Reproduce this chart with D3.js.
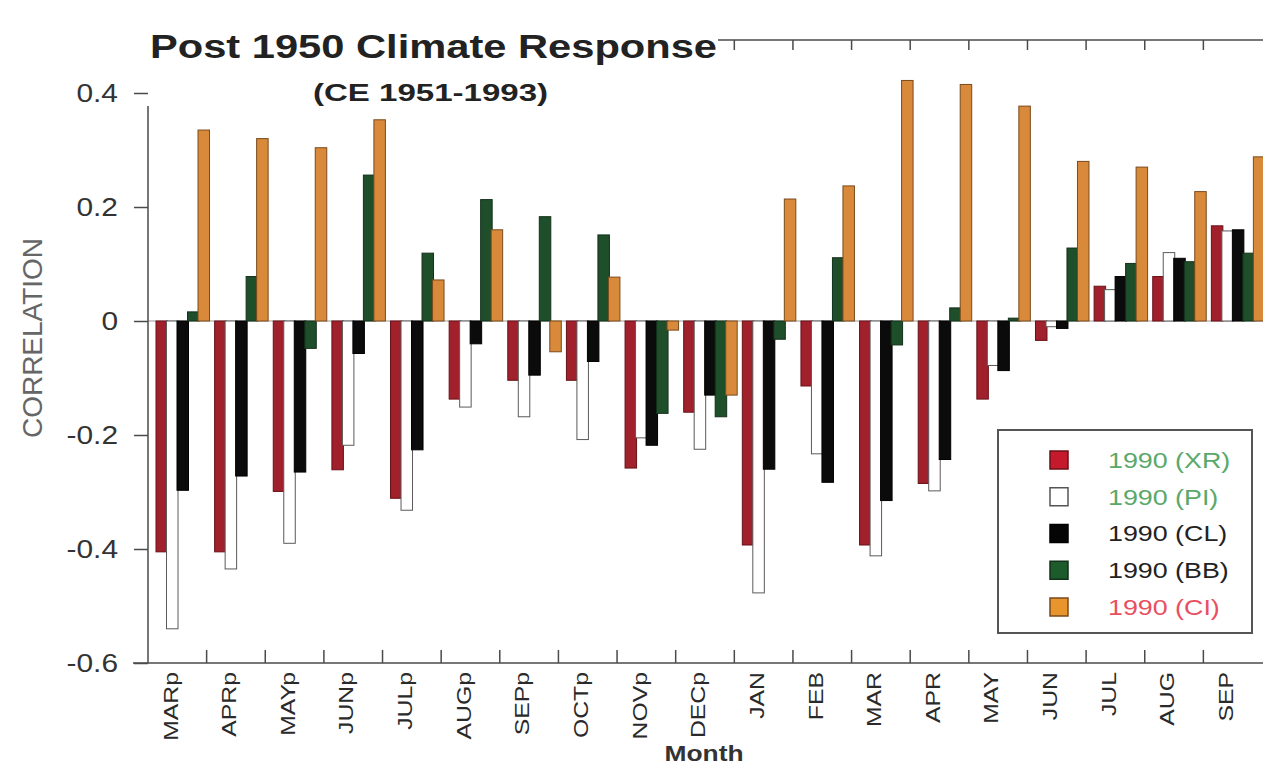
<!DOCTYPE html>
<html>
<head>
<meta charset="utf-8">
<script src="https://cdn.jsdelivr.net/npm/d3@7"></script>
<style>
  html, body { margin: 0; padding: 0; background: #fff; }
  svg { display: block; font-family: "Liberation Sans", Arial, Helvetica, sans-serif; }
</style>
</head>
<body>
<svg id="chart" width="1263" height="765"></svg>
<script>
// Month categories (p = previous year)
const months = ["MARp","APRp","MAYp","JUNp","JULp","AUGp","SEPp","OCTp","NOVp","DECp",
                "JAN","FEB","MAR","APR","MAY","JUN","JUL","AUG","SEP"];

// Correlation of each chronology with climate, CE 1951-1993
const xr = [-0.405,-0.405,-0.299,-0.261,-0.311,-0.137,-0.104,-0.104,-0.258,-0.160,
            -0.393,-0.114,-0.393,-0.285,-0.137,-0.034, 0.061, 0.078, 0.167];
const pi = [-0.540,-0.435,-0.390,-0.218,-0.332,-0.151,-0.168,-0.208,-0.205,-0.225,
            -0.477,-0.233,-0.412,-0.298,-0.078,-0.010, 0.055, 0.120, 0.158];
const cl = [-0.297,-0.272,-0.265,-0.057,-0.226,-0.040,-0.095,-0.071,-0.218,-0.130,
            -0.260,-0.283,-0.315,-0.243,-0.087,-0.013, 0.078, 0.110, 0.160];
const bb = [ 0.016, 0.078,-0.048, 0.256, 0.119, 0.213, 0.183, 0.151,-0.162,-0.168,
            -0.032, 0.111,-0.042, 0.023, 0.005, 0.128, 0.101, 0.104, 0.119];
const ci = [ 0.335, 0.320, 0.304, 0.353, 0.072, 0.160,-0.054, 0.077,-0.016,-0.130,
             0.214, 0.237, 0.422, 0.415, 0.377, 0.280, 0.270, 0.227, 0.288];

const seriesNames = ["1990 (XR)","1990 (PI)","1990 (CL)","1990 (BB)","1990 (CI)"];
const yTicks = [0.4, 0.2, 0, -0.2, -0.4, -0.6];
const yTickLabels = ["0.4","0.2","0","-0.2","-0.4","-0.6"];

const seriesValues = [xr, pi, cl, bb, ci];
const fills   = ["#a0202b", "#ffffff", "#0b0b0b", "#1f4e2a", "#d8893a"];
const strokes = ["#6a1018", "#5a5a5a", "#000000", "#12301a", "#7a4a1c"];
const swatchFills = ["#c41a2c", "#ffffff", "#050505", "#1d5a2c", "#e8952e"];
const legendText = ["#5aa86a", "#5aa86a", "#222222", "#222222", "#e8505f"];

const svg = d3.select("#chart");

const x = d3.scaleBand().domain(months).range([148, 1262]).paddingInner(0).paddingOuter(0);
const y = d3.scaleLinear().domain([-0.6, 0.4]).range([663, 93]);
const sub = d3.scaleBand().domain(seriesNames).range([8, 8 + 5 * 10.5]);
const barW = 11.5;

const axisColor = "#4a4a4a";

// top frame line with inward ticks at band edges
svg.append("line").attr("x1", 148).attr("x2", 1263).attr("y1", 40).attr("y2", 40)
  .attr("stroke", axisColor).attr("stroke-width", 1.5);
svg.append("g").selectAll("line").data(months.slice(1)).join("line")
  .attr("x1", d => x(d)).attr("x2", d => x(d))
  .attr("y1", 40).attr("y2", 50)
  .attr("stroke", axisColor).attr("stroke-width", 1.5);

// zero line
svg.append("line").attr("x1", 148).attr("x2", 1263).attr("y1", y(0)).attr("y2", y(0))
  .attr("stroke", "#9a9a9a").attr("stroke-width", 1);

// bars
seriesNames.forEach((name, si) => {
  svg.append("g").selectAll("rect").data(months).join("rect")
    .attr("x", (m) => x(m) + sub(name))
    .attr("width", barW)
    .attr("y", (m, i) => y(Math.max(0, seriesValues[si][i])))
    .attr("height", (m, i) => Math.abs(y(seriesValues[si][i]) - y(0)))
    .attr("fill", fills[si])
    .attr("stroke", strokes[si])
    .attr("stroke-width", 1);
});

// left axis
svg.append("line").attr("x1", 148).attr("x2", 148).attr("y1", 40).attr("y2", 663)
  .attr("stroke", axisColor).attr("stroke-width", 1.5);

// bottom axis with inward ticks
svg.append("line").attr("x1", 133).attr("x2", 1263).attr("y1", 663).attr("y2", 663)
  .attr("stroke", axisColor).attr("stroke-width", 1.5);
svg.append("g").selectAll("line").data(months.slice(1)).join("line")
  .attr("x1", d => x(d)).attr("x2", d => x(d))
  .attr("y1", 663).attr("y2", 650)
  .attr("stroke", axisColor).attr("stroke-width", 1.5);

// title block (white background covering the frame corner)
svg.append("rect").attr("x", 147).attr("y", 0).attr("width", 571).attr("height", 106)
  .attr("fill", "#fff");
svg.append("text").attr("x", 150).attr("y", 58)
  .attr("font-size", 34).attr("font-weight", "bold").attr("fill", "#222")
  .attr("textLength", 567).attr("lengthAdjust", "spacingAndGlyphs")
  .text("Post 1950 Climate Response");
svg.append("text").attr("x", 313).attr("y", 101)
  .attr("font-size", 24).attr("font-weight", "bold").attr("fill", "#222")
  .attr("textLength", 235).attr("lengthAdjust", "spacingAndGlyphs")
  .text("(CE 1951-1993)");

// y ticks and labels
const yAxis = d3.axisLeft(y).tickValues(yTicks).tickSize(14).tickFormat("");
const gy = svg.append("g").attr("transform", "translate(148,0)").call(yAxis);
gy.select(".domain").remove();
gy.selectAll(".tick line").attr("stroke", axisColor).attr("stroke-width", 1.5);

svg.append("g").selectAll("text").data(yTicks).join("text")
  .attr("transform", d => `translate(118,${y(d)}) scale(1.15,1)`)
  .attr("text-anchor", "end").attr("dy", "0.36em")
  .attr("font-size", 26).attr("fill", "#333")
  .text((d, i) => yTickLabels[i]);

// x labels (rotated)
svg.append("g").selectAll("text").data(months).join("text")
  .attr("transform", d => `translate(${x(d) + 22},672) rotate(-90) scale(1.18,1)`)
  .attr("text-anchor", "end").attr("dy", "0.36em")
  .attr("font-size", 21).attr("fill", "#2a2a2a")
  .text(d => d);

// axis titles
svg.append("text")
  .attr("transform", "translate(32,338) rotate(-90)")
  .attr("text-anchor", "middle").attr("dy", "0.36em")
  .attr("font-size", 28).attr("fill", "#666")
  .text("CORRELATION");
svg.append("text")
  .attr("transform", "translate(704,761) scale(1.2,1)")
  .attr("text-anchor", "middle")
  .attr("font-size", 22).attr("font-weight", "bold").attr("fill", "#333")
  .text("Month");

// legend
const legend = svg.append("g");
legend.append("rect").attr("x", 998).attr("y", 430).attr("width", 254).attr("height", 203)
  .attr("fill", "#fff").attr("stroke", "#555").attr("stroke-width", 2);
const rowY = d3.scalePoint().domain(seriesNames).range([460, 607]);
seriesNames.forEach((name, i) => {
  legend.append("rect").attr("x", 1050).attr("y", rowY(name) - 9).attr("width", 18).attr("height", 18)
    .attr("fill", swatchFills[i]).attr("stroke", i === 1 ? "#555" : strokes[i]).attr("stroke-width", 1.5);
  legend.append("text")
    .attr("transform", `translate(1108,${rowY(name)}) scale(1.22,1)`)
    .attr("dy", "0.36em").attr("font-size", 22).attr("fill", legendText[i])
    .text(name);
});
</script>
</body>
</html>
